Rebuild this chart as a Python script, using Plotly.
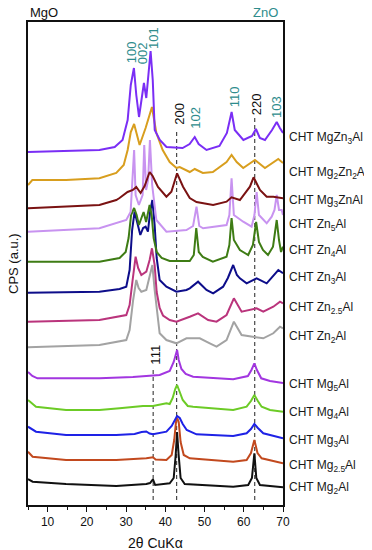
import plotly.graph_objects as go

# ---------------- data (2θ in degrees, stacked CPS in a.u.) ----------------
tt_MgZn3Al = [5, 13, 23.2, 27.1, 29.1, 30.4, 31.2, 32.0, 32.6, 33.3, 34.0, 34.55, 35.15, 35.75, 36.25, 36.8, 37.3, 38.6, 40.3, 44.4, 46.2, 47.5, 48.5, 50.5, 53.8, 55.7, 56.9, 57.7, 59.9, 62.1, 63.1, 64.1, 65.4, 67.2, 68.4, 69.2, 70]
cps_MgZn3Al = [353, 354, 355, 358, 365, 385, 420, 437, 410, 388, 405, 422, 407, 435, 454, 425, 375, 365, 358, 357, 361, 368, 361, 355, 359, 372, 393, 375, 365, 369, 376, 367, 365, 375, 383, 377, 372]

tt_Mg2Zn2Al = [5, 6.1, 14.7, 23.2, 27.5, 29.4, 30.4, 31.2, 32.05, 32.7, 33.45, 34.98, 36.6, 37.72, 39.33, 41.12, 42.83, 43.68, 46.23, 47.51, 49.56, 52.11, 55.61, 56.89, 58.2, 59.86, 62.85, 65.4, 68.8, 70]
cps_Mg2Zn2Al = [320, 325, 325, 326.7, 332, 340, 355, 373, 381, 370, 360, 377, 398, 372, 355, 343, 337, 338, 333, 336, 332, 333, 343, 350, 343, 337, 345, 337, 346, 342]

tt_Mg3ZnAl = [5, 14.7, 23.2, 27.5, 28.34, 30.38, 31.74, 32.6, 33.7, 34.73, 36.0, 36.77, 38.13, 40.28, 41.55, 43.0, 44.52, 46.23, 47.95, 52.19, 55.61, 56.89, 59.01, 61.57, 62.5, 64.12, 65.84, 67.53, 70]
cps_Mg3ZnAl = [296.7, 298.3, 300, 305, 307, 313, 315, 318, 312, 319, 333, 329, 318, 308.3, 313.3, 331.7, 318.3, 307, 303, 300, 303.3, 307.7, 305, 318.3, 327.7, 315, 308.3, 308.3, 306.7]

tt_Zn5Al = [5, 14.7, 23.2, 30.05, 31.15, 32.05, 32.43, 33.27, 34.22, 34.63, 35.11, 35.62, 36.08, 36.65, 37.72, 40.28, 45.39, 47.08, 47.95, 48.66, 49.63, 55.61, 56.33, 56.89, 57.48, 59.86, 62.0, 62.72, 63.28, 63.87, 65.84, 67.12, 67.83, 68.4, 68.98, 69.67, 70]
cps_Zn5Al = [273.3, 275, 276.7, 285, 293, 355, 310, 300, 310, 360, 315, 325, 365, 320, 285, 273.3, 275, 279, 298.3, 279, 276.7, 280, 290, 326.7, 290, 283.3, 278.3, 290, 313, 290, 281.7, 288.3, 295, 310, 295, 295, 290]

tt_Zn4Al = [5, 14.7, 23.2, 28.34, 29.9, 30.64, 31.28, 32.05, 32.69, 33.27, 33.96, 34.47, 35.11, 35.62, 36.0, 36.52, 37.03, 37.8, 39.07, 41.12, 46.23, 47.26, 47.89, 48.53, 49.56, 52.11, 55.61, 56.33, 56.89, 57.48, 59.01, 61.13, 62.33, 63.15, 63.87, 64.89, 66.17, 67.45, 68.4, 68.98, 69.5, 70]
cps_Zn4Al = [243.3, 243, 243.3, 247, 253, 267, 290, 297, 290, 280, 287, 293, 283, 293, 300, 290, 267, 253, 247, 244, 244, 250, 277, 253, 248, 243.3, 248.3, 260, 287, 265, 255, 250, 260, 283, 263, 255, 250, 258.3, 285, 265, 253, 258.3]

tt_Zn3Al = [5, 14.7, 23.2, 28.34, 30.05, 30.9, 31.54, 32.17, 32.94, 33.63, 34.35, 34.98, 35.57, 36.13, 36.7, 37.28, 37.8, 38.56, 40.28, 42.83, 45.39, 46.23, 48.35, 50.5, 52.19, 54.74, 55.95, 57.3, 58.25, 59.01, 60.73, 63.28, 65.84, 68.8, 70]
cps_Zn3Al = [212.3, 213, 213.3, 216, 218.3, 235, 275, 293.3, 280, 270, 277, 278.3, 273.3, 293, 305, 280, 247, 225, 218.3, 213.3, 215, 216.7, 223.3, 215, 211.7, 218.3, 227, 240, 230, 226.7, 221.7, 226.7, 221.7, 235, 231.7]

tt_Zn25Al = [5, 14.7, 23.2, 30.05, 30.9, 31.67, 32.43, 33.07, 33.89, 35.16, 36.0, 36.6, 37.28, 37.8, 38.56, 39.41, 41.12, 42.83, 45.39, 46.23, 48.35, 50.91, 53.06, 55.61, 57.48, 59.45, 63.28, 64.97, 67.53, 69.24, 70]
cps_Zn25Al = [183.3, 184.5, 185, 190, 200, 225, 248.3, 237, 230, 233.3, 245, 256.7, 240, 213, 197, 189.5, 185, 183.3, 186.7, 188.3, 191.7, 185, 183.3, 190, 206.7, 193.3, 196.7, 193.3, 198.3, 203.3, 201.7]

tt_Zn2Al = [5, 14.7, 23.2, 30.05, 30.9, 31.8, 32.6, 33.2, 33.89, 35.16, 36.0, 36.7, 37.28, 37.92, 38.56, 40.28, 42.83, 45.39, 48.79, 51.35, 53.06, 55.61, 57.48, 59.45, 62.85, 64.97, 67.53, 69.24, 70]
cps_Zn2Al = [157.7, 159, 160, 165, 175, 205, 225, 217, 213.3, 215, 230, 240, 215, 190, 171.7, 165, 161.7, 166.7, 166.7, 161.7, 158.3, 165, 183.3, 170, 168.3, 166.7, 171.7, 178.3, 176.7]

tt_Mg5Al = [5, 6.1, 7.4, 14.7, 23.2, 31.74, 35.16, 38.56, 41.12, 42.14, 43.0, 43.42, 44.11, 45.2, 47.08, 57.3, 61.06, 61.95, 62.7, 63.36, 64.45, 66.68, 70]
cps_Mg5Al = [133, 129, 126.7, 126.7, 126.7, 128, 129, 130, 134, 143, 155, 145, 136, 131, 128.3, 125.7, 129, 135, 141.7, 135, 126.7, 124, 122]

tt_Mg4Al = [5, 6.1, 7.04, 14.7, 23.2, 28.34, 34.3, 36.85, 40.28, 41.12, 41.88, 42.53, 43.0, 43.68, 44.44, 45.72, 47.08, 57.3, 60.73, 61.83, 62.7, 63.59, 64.56, 66.68, 70]
cps_Mg4Al = [105, 101, 98.3, 95, 95, 96.7, 99, 99, 101.7, 101, 107, 116, 120, 113, 105, 99, 98.3, 95, 98.3, 104, 110, 104, 98.3, 95, 93.3]

tt_Mg3Al = [5, 6.1, 7.04, 14.7, 27.5, 32.17, 33.96, 35.16, 36.0, 36.85, 40.28, 41.63, 42.4, 43.0, 43.68, 44.44, 45.46, 47.95, 57.3, 60.73, 61.83, 62.7, 63.59, 64.97, 70]
cps_Mg3Al = [78.3, 76, 73.3, 70, 70, 71, 73, 73.5, 71.5, 70.7, 73.3, 79, 85, 89, 87, 81, 75, 70.7, 69, 71.7, 76, 81, 77, 71.7, 66.7]

tt_Mg25Al = [5, 6.18, 14.7, 27.5, 35.16, 36.85, 37.54, 40.28, 41.63, 42.27, 42.78, 43.0, 43.42, 43.9, 44.7, 46.23, 57.3, 60.73, 61.83, 62.7, 63.5, 64.56, 70]
cps_Mg25Al = [53.3, 48.3, 45, 45, 46.7, 47.7, 45.5, 45, 50, 65, 85, 87, 83, 63, 50, 46.7, 43.3, 45, 52, 65, 52, 46.7, 41.7]

tt_Mg2Al = [5, 6.18, 14.7, 27.5, 35.16, 36.1, 36.85, 37.42, 41.12, 42.14, 42.65, 43.0, 43.4, 43.9, 44.95, 57.3, 61.13, 62.08, 62.7, 63.2, 64.12, 70]
cps_Mg2Al = [26, 23.3, 21, 19, 21, 22, 25.7, 20, 21.7, 27, 50, 73, 50, 27, 21, 18.3, 20, 27, 51.7, 27, 20, 17.7]

sample_names = ["CHT Mg<sub>2</sub>Al", "CHT Mg<sub>2.5</sub>Al", "CHT Mg<sub>3</sub>Al",
                "CHT Mg<sub>4</sub>Al", "CHT Mg<sub>5</sub>Al", "CHT Zn<sub>2</sub>Al",
                "CHT Zn<sub>2.5</sub>Al", "CHT Zn<sub>3</sub>Al", "CHT Zn<sub>4</sub>Al",
                "CHT Zn<sub>5</sub>Al", "CHT Mg<sub>3</sub>ZnAl", "CHT Mg<sub>2</sub>Zn<sub>2</sub>Al",
                "CHT MgZn<sub>3</sub>Al"]

zno_labels = ["100", "002", "101", "102", "110", "103"]
mgo_labels = ["111", "200", "220"]
mgo_lines_2theta = [36.9, 42.9, 62.8]

x_ticks = [10, 20, 30, 40, 50, 60, 70]

# ---------------- styling ----------------
series = [
    (tt_Mg2Al, cps_Mg2Al, "#111111"),
    (tt_Mg25Al, cps_Mg25Al, "#C2491E"),
    (tt_Mg3Al, cps_Mg3Al, "#1E22E6"),
    (tt_Mg4Al, cps_Mg4Al, "#6CCB26"),
    (tt_Mg5Al, cps_Mg5Al, "#A236E0"),
    (tt_Zn2Al, cps_Zn2Al, "#A3A3A3"),
    (tt_Zn25Al, cps_Zn25Al, "#BA347C"),
    (tt_Zn3Al, cps_Zn3Al, "#0D0D8A"),
    (tt_Zn4Al, cps_Zn4Al, "#3E7C14"),
    (tt_Zn5Al, cps_Zn5Al, "#C893F0"),
    (tt_Mg3ZnAl, cps_Mg3ZnAl, "#7A1212"),
    (tt_Mg2Zn2Al, cps_Mg2Zn2Al, "#D89E1E"),
    (tt_MgZn3Al, cps_MgZn3Al, "#7A2EF5"),
]
label_y = [17.5, 39.5, 64.5, 92, 120, 168, 197, 227, 254, 280, 304.5, 332, 367]

FONT = "Liberation Sans"
TEAL = "#2E8C8C"

fig = go.Figure()
for (xs, ys, col), name in zip(series, sample_names):
    fig.add_trace(go.Scatter(x=xs, y=ys, mode="lines", name=name,
                             line=dict(color=col, width=2), showlegend=False,
                             hoverinfo="skip"))

annotations = []
for name, yv in zip(sample_names, label_y):
    annotations.append(dict(x=1.0157, xref="paper", y=yv, yref="y", text=name,
                            showarrow=False, xanchor="left", yanchor="middle",
                            font=dict(family=FONT, size=12, color="#1a1a1a")))

zno_pos = [(31.33, 453), (34.14, 452), (36.85, 467), (47.51, 387), (57.6, 408), (68.2, 398)]
for t, (xp, yp) in zip(zno_labels, zno_pos):
    annotations.append(dict(x=xp, y=yp, xref="x", yref="y", text=t, textangle=-90,
                            showarrow=False, font=dict(family=FONT, size=13, color=TEAL)))
mgo_pos = [(37.28, 150), (43.42, 391), (63.18, 401)]
for t, (xp, yp) in zip(mgo_labels, mgo_pos):
    annotations.append(dict(x=xp, y=yp, xref="x", yref="y", text=t, textangle=-90,
                            showarrow=False, font=dict(family=FONT, size=13, color="#111111")))

annotations += [
    dict(x=0, xref="paper", y=1.019, yref="paper", text="MgO", showarrow=False,
         xanchor="left", yanchor="middle", font=dict(family=FONT, size=13, color="#111111")),
    dict(x=69.24, xref="x", y=1.019, yref="paper", text="ZnO", showarrow=False,
         xanchor="right", yanchor="middle", font=dict(family=FONT, size=13, color=TEAL)),
    dict(x=0.5, xref="paper", y=-0.0787, yref="paper", text="2θ CuKα", showarrow=False,
         xanchor="center", yanchor="middle", font=dict(family=FONT, size=14, color="#111111")),
    dict(x=-0.0569, xref="paper", y=0.5, yref="paper", text="CPS (a.u.)", textangle=-90,
         showarrow=False, xanchor="center", yanchor="middle",
         font=dict(family=FONT, size=13, color="#111111")),
]

shape_tops = [135, 373, 387]
shapes = []
for xv, top in zip(mgo_lines_2theta, shape_tops):
    shapes.append(dict(type="line", xref="x", yref="y", x0=xv, x1=xv, y0=5, y1=top,
                       line=dict(color="#222222", width=1, dash="4px,3px"), layer="below"))

# page body keeps an 8 px margin at left/top, so the figure is shifted by 8 px
fig.update_layout(
    width=364, height=542,
    margin=dict(l=20, r=89, t=14, b=45),
    paper_bgcolor="white", plot_bgcolor="white",
    annotations=annotations, shapes=shapes,
    font=dict(family=FONT, size=12, color="#111111"),
)
fig.update_xaxes(range=[5, 70], tickvals=x_ticks, ticks="outside", ticklen=5, tickwidth=1,
                 tickcolor="#111111", showline=True, linecolor="#111111", linewidth=1.5,
                 mirror=True, showgrid=False, zeroline=False,
                 tickfont=dict(family=FONT, size=12, color="#111111"),
                 minor=dict(tickvals=[5, 15, 25, 35, 45, 55, 65], ticks="outside", ticklen=3,
                            tickcolor="#111111"))
fig.update_yaxes(range=[0, 483], showticklabels=False, ticks="", showline=True,
                 linecolor="#111111", linewidth=1.5, mirror=True, showgrid=False,
                 zeroline=False)

fig.write_html("out.html")
